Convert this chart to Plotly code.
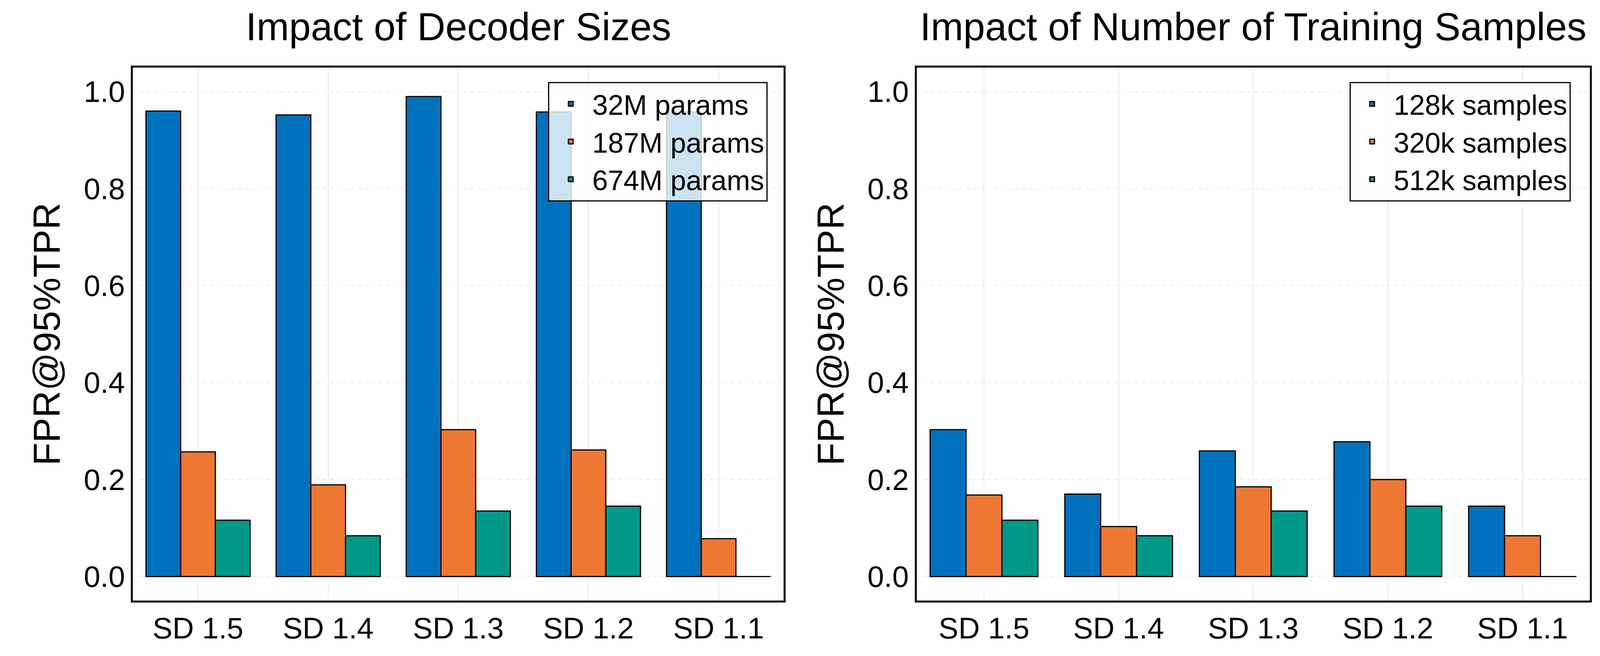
import plotly.graph_objects as go

categories = ['SD 1.5', 'SD 1.4', 'SD 1.3', 'SD 1.2', 'SD 1.1']

# left panel: decoder sizes
dec_32m = [0.960, 0.952, 0.990, 0.958, 0.958]
dec_187m = [0.257, 0.189, 0.303, 0.261, 0.078]
dec_674m = [0.116, 0.084, 0.135, 0.145, 0.0]

# right panel: training samples
smp_128k = [0.303, 0.170, 0.259, 0.278, 0.145]
smp_320k = [0.168, 0.103, 0.185, 0.200, 0.084]
smp_512k = [0.116, 0.084, 0.135, 0.145, 0.0]

colors = ['#0072bd', '#ee7733', '#009988']
font = 'Liberation Sans, Arial'

fig = go.Figure()
left = [('32M params', dec_32m), ('187M params', dec_187m), ('674M params', dec_674m)]
right = [('128k samples', smp_128k), ('320k samples', smp_320k), ('512k samples', smp_512k)]
for (name, vals), c in zip(left, colors):
    fig.add_trace(go.Bar(x=categories, y=vals, name=name, marker_color=c,
                         marker_line=dict(color='black', width=3),
                         xaxis='x', yaxis='y', legend='legend', offsetgroup=name))
for (name, vals), c in zip(right, colors):
    fig.add_trace(go.Bar(x=categories, y=vals, name=name, marker_color=c,
                         marker_line=dict(color='black', width=3),
                         xaxis='x2', yaxis='y2', legend='legend2', offsetgroup=name))

ax = dict(showline=True, mirror=True, linecolor='black', linewidth=5,
          tickfont=dict(size=76, color='black'), gridcolor='#e4e4e4', gridwidth=2,
          zeroline=False, ticks='')
yax = dict(ax, range=[-0.05, 1.05], dtick=0.2, tickformat='.1f', griddash='dash',
           gridcolor='#e8e8e8',
           title=dict(text='FPR@95%TPR', font=dict(size=96, color='black'), standoff=30))

legend_style = dict(font=dict(size=72, color='black'), bgcolor='rgba(255,255,255,0.8)',
                    bordercolor='black', borderwidth=3, xanchor='right', yanchor='top',
                    itemwidth=100, tracegroupgap=0)

fig.update_layout(
    width=4103, height=1680, margin=dict(l=0, r=0, t=0, b=0),
    plot_bgcolor='white', paper_bgcolor='white', font=dict(family=font, color='black'),
    barmode='group', bargap=0.2, bargroupgap=0,
    xaxis=dict(ax, domain=[0.081, 0.487], anchor='y'),
    yaxis=dict(yax, domain=[0.089, 0.902], anchor='x'),
    xaxis2=dict(ax, domain=[0.570, 0.990], anchor='y2'),
    yaxis2=dict(yax, domain=[0.089, 0.902], anchor='x2'),
    legend=dict(legend_style, x=0.477, y=0.880),
    legend2=dict(legend_style, x=0.978, y=0.880),
    annotations=[
        dict(text='Impact of Decoder Sizes', x=0.284, y=0.93, xref='paper', yref='paper',
             xanchor='center', showarrow=False, yanchor='bottom',
             font=dict(size=100, color='black')),
        dict(text='Impact of Number of Training Samples', x=0.780, y=0.93, xref='paper',
             yref='paper', xanchor='center', showarrow=False, yanchor='bottom',
             font=dict(size=100, color='black')),
    ],
)

fig.write_html('out.html')
